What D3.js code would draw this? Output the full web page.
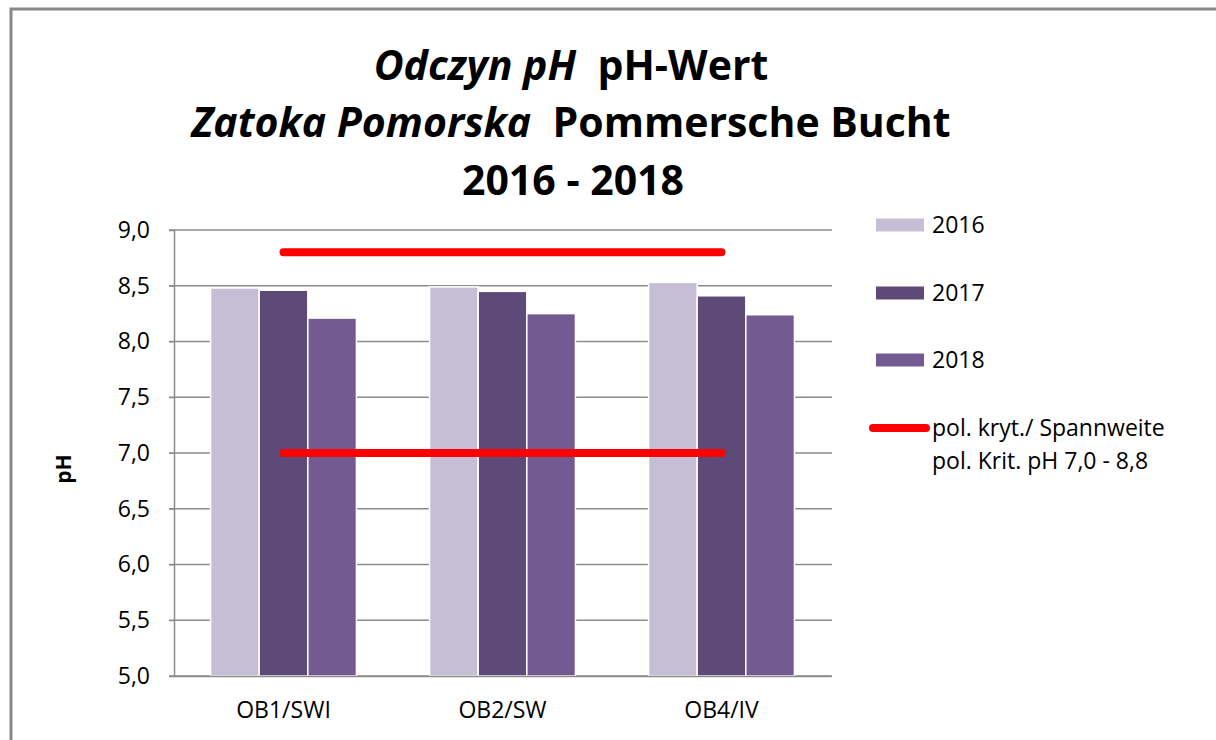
<!DOCTYPE html>
<html>
<head>
<meta charset="utf-8">
<script src="https://cdn.jsdelivr.net/npm/d3@7"></script>
<style>
  body { margin: 0; background: #fff; }
  svg text { font-family: "Open Sans", "Noto Sans", sans-serif; fill: #000; }
</style>
</head>
<body>
<div id="chart"></div>
<script>
const stations = ['OB1/SWI', 'OB2/SW', 'OB4/IV'];
const years = ['2016', '2017', '2018'];
const ph2016 = [8.48, 8.49, 8.53];
const ph2017 = [8.46, 8.45, 8.41];
const ph2018 = [8.21, 8.25, 8.24];
const critLow = 7.0;
const critHigh = 8.8;
const yTicks = [5.0, 5.5, 6.0, 6.5, 7.0, 7.5, 8.0, 8.5, 9.0];

const colors = {'2016': '#C6BED5', '2017': '#5E4A78', '2018': '#735A90'};
const seriesValues = {'2016': ph2016, '2017': ph2017, '2018': ph2018};

const W = 1216, H = 740;
const plot = {left: 174, right: 831, top: 230, bottom: 676};

const svg = d3.select('#chart').append('svg')
  .attr('width', W).attr('height', H);

// outer frame
svg.append('path')
  .attr('d', `M11,${H}L11,9L${W},9`)
  .attr('fill', 'none')
  .attr('stroke', '#878787')
  .attr('stroke-width', 3);

const x = d3.scaleBand()
  .domain(stations)
  .range([plot.left, plot.right])
  .padding(0);

const xInner = d3.scaleBand()
  .domain(years)
  .range([x.bandwidth() * 0.167, x.bandwidth() * 0.833])
  .padding(0);

const y = d3.scaleLinear()
  .domain([5, 9])
  .range([plot.bottom, plot.top]);

const fmt = d => d.toFixed(1).replace('.', ',');

// gridlines
svg.append('g')
  .selectAll('line')
  .data(yTicks)
  .join('line')
  .attr('x1', plot.left - 5)
  .attr('x2', plot.right + 1)
  .attr('y1', d => y(d))
  .attr('y2', d => y(d))
  .attr('stroke', '#8c8c8c')
  .attr('stroke-width', 1.5);

// y axis
const yAxis = svg.append('g')
  .attr('transform', `translate(${plot.left},0)`)
  .call(d3.axisLeft(y).tickValues(yTicks).tickFormat(fmt).tickSize(5).tickPadding(19));
yAxis.select('.domain').attr('stroke', '#8c8c8c').attr('stroke-width', 1.5);
yAxis.selectAll('.tick line').attr('stroke', '#8c8c8c');
yAxis.selectAll('.tick text')
  .style('font-size', '23px')
  .attr('font-family', null);

// bars
const groups = svg.append('g')
  .selectAll('g')
  .data(stations)
  .join('g')
  .attr('transform', d => `translate(${x(d)},0)`);

groups.selectAll('rect')
  .data((s, i) => years.map(yr => ({year: yr, value: seriesValues[yr][i]})))
  .join('rect')
  .attr('x', d => xInner(d.year))
  .attr('y', d => y(d.value))
  .attr('width', xInner.bandwidth())
  .attr('height', d => y(5) - y(d.value))
  .attr('fill', d => colors[d.year])
  .attr('stroke', '#fff')
  .attr('stroke-width', 1.5);

// x axis
const xAxis = svg.append('g')
  .attr('transform', `translate(0,${plot.bottom})`)
  .call(d3.axisBottom(x).tickSize(0).tickPadding(26));
xAxis.select('.domain').attr('stroke', '#8c8c8c').attr('stroke-width', 1.5);
xAxis.selectAll('.tick text')
  .style('font-size', '23px')
  .attr('font-family', null);

// critical range lines
const critLine = d3.line()
  .x(d => x(d.s) + x.bandwidth() / 2)
  .y(d => y(d.v));
[critHigh, critLow].forEach(v => {
  svg.append('path')
    .datum([{s: stations[0], v: v}, {s: stations[stations.length - 1], v: v}])
    .attr('d', critLine)
    .attr('fill', 'none')
    .attr('stroke', '#FF0000')
    .attr('stroke-width', 8)
    .attr('stroke-linecap', 'round');
});

// y axis title
svg.append('text')
  .attr('transform', 'translate(71,469) rotate(-90)')
  .attr('text-anchor', 'middle')
  .style('font-size', '21px')
  .style('font-weight', 'bold')
  .text('pH');

// title
const title = svg.append('text')
  .attr('text-anchor', 'middle')
  .style('font-size', '41px')
  .style('font-weight', 'bold');
const t1 = title.append('tspan').attr('x', 571).attr('y', 80);
t1.append('tspan').style('font-style', 'italic').text('Odczyn pH');
t1.append('tspan').text('\u00a0\u00a0pH-Wert');
const t2 = title.append('tspan').attr('x', 571).attr('y', 137);
t2.append('tspan').style('font-style', 'italic').text('Zatoka Pomorska');
t2.append('tspan').text('\u00a0\u00a0Pommersche Bucht');
title.append('tspan').attr('x', 573).attr('y', 195).text('2016 - 2018');

// legend
const legendY = {'2016': 225, '2017': 293, '2018': 360};
const legend = svg.append('g');
legend.selectAll('rect')
  .data(years)
  .join('rect')
  .attr('x', 876)
  .attr('y', d => legendY[d] - 6.5)
  .attr('width', 48)
  .attr('height', 13)
  .attr('fill', d => colors[d]);
legend.selectAll('text.yr')
  .data(years)
  .join('text')
  .attr('class', 'yr')
  .attr('x', 932)
  .attr('y', d => legendY[d] + 8)
  .style('font-size', '23px')
  .text(d => d);

legend.append('line')
  .attr('x1', 873).attr('x2', 926)
  .attr('y1', 428).attr('y2', 428)
  .attr('stroke', '#FF0000')
  .attr('stroke-width', 8)
  .attr('stroke-linecap', 'round');
legend.append('text')
  .attr('x', 932).attr('y', 436)
  .style('font-size', '23px')
  .text('pol. kryt./ Spannweite');
legend.append('text')
  .attr('x', 932).attr('y', 469)
  .style('font-size', '23px')
  .text('pol. Krit. pH 7,0 - 8,8');
</script>
</body>
</html>
